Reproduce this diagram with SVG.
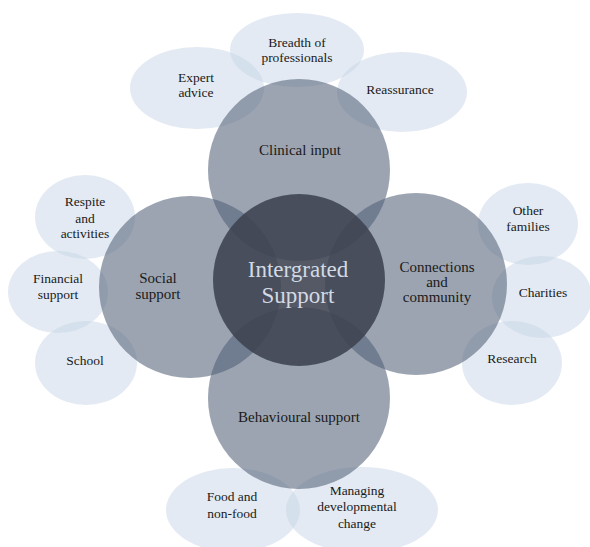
<svg xmlns="http://www.w3.org/2000/svg" width="590" height="547" viewBox="0 0 590 547" font-family="'Liberation Serif', 'Times New Roman', serif">
<style>
.outer{fill:#c8d6e8;fill-opacity:0.5}
.mid{fill:#4e5c74;fill-opacity:0.56}
.core{fill:#3c4250;fill-opacity:0.88}
text{font-family:'Liberation Serif','Times New Roman',serif;fill:#1a1a1a;text-anchor:middle}
.o{font-size:13.5px}
.m{font-size:15px}
.c{font-size:23px;fill:#d3d9e3}
</style>
<rect width="590" height="547" fill="#ffffff"/>
<g id="outer-nodes">
<g id="expert-advice"><ellipse class="outer" cx="197" cy="88" rx="67" ry="41"/><text class="o" x="196" y="82">Expert</text><text class="o" x="196" y="97">advice</text></g>
<g id="breadth"><ellipse class="outer" cx="297" cy="50" rx="67" ry="37"/><text class="o" x="297" y="47">Breadth of</text><text class="o" x="297" y="62">professionals</text></g>
<g id="reassurance"><ellipse class="outer" cx="402" cy="92" rx="65" ry="40"/><text class="o" x="400" y="94">Reassurance</text></g>
<g id="respite"><ellipse class="outer" cx="85" cy="217" rx="50" ry="42"/><text class="o" x="85" y="206">Respite</text><text class="o" x="85" y="223">and</text><text class="o" x="85" y="238">activities</text></g>
<g id="financial"><ellipse class="outer" cx="58" cy="292" rx="50" ry="41"/><text class="o" x="58" y="283">Financial</text><text class="o" x="58" y="299">support</text></g>
<g id="school"><ellipse class="outer" cx="86" cy="363" rx="51" ry="42"/><text class="o" x="85" y="365">School</text></g>
<g id="other-families"><ellipse class="outer" cx="528" cy="224" rx="50" ry="41"/><text class="o" x="528" y="215">Other</text><text class="o" x="528" y="231">families</text></g>
<g id="charities"><ellipse class="outer" cx="542" cy="297" rx="50" ry="41"/><text class="o" x="543" y="297">Charities</text></g>
<g id="research"><ellipse class="outer" cx="512" cy="363" rx="50" ry="42"/><text class="o" x="512" y="363">Research</text></g>
<g id="food"><ellipse class="outer" cx="233" cy="510" rx="67" ry="42"/><text class="o" x="232" y="501">Food and</text><text class="o" x="232" y="518">non-food</text></g>
<g id="managing"><ellipse class="outer" cx="362" cy="510" rx="76" ry="43"/><text class="o" x="357" y="495">Managing</text><text class="o" x="357" y="511">developmental</text><text class="o" x="357" y="528">change</text></g>
</g>
<g id="mid-nodes">
<g id="clinical"><circle class="mid" cx="299" cy="170" r="91"/><text class="m" x="300" y="155">Clinical input</text></g>
<g id="social"><circle class="mid" cx="190" cy="287" r="91"/><text class="m" x="158" y="283">Social</text><text class="m" x="158" y="299">support</text></g>
<g id="connections"><circle class="mid" cx="416" cy="284" r="91"/><text class="m" x="437" y="272">Connections</text><text class="m" x="437" y="287">and</text><text class="m" x="437" y="302">community</text></g>
<g id="behavioural"><circle class="mid" cx="299" cy="398" r="91"/><text class="m" x="299" y="422">Behavioural support</text></g>
</g>
<g id="connectors"></g>
<g id="center"><circle class="core" cx="299" cy="280" r="86"/><text class="c" x="298" y="277">Intergrated</text><text class="c" x="298" y="303">Support</text></g>
</svg>
